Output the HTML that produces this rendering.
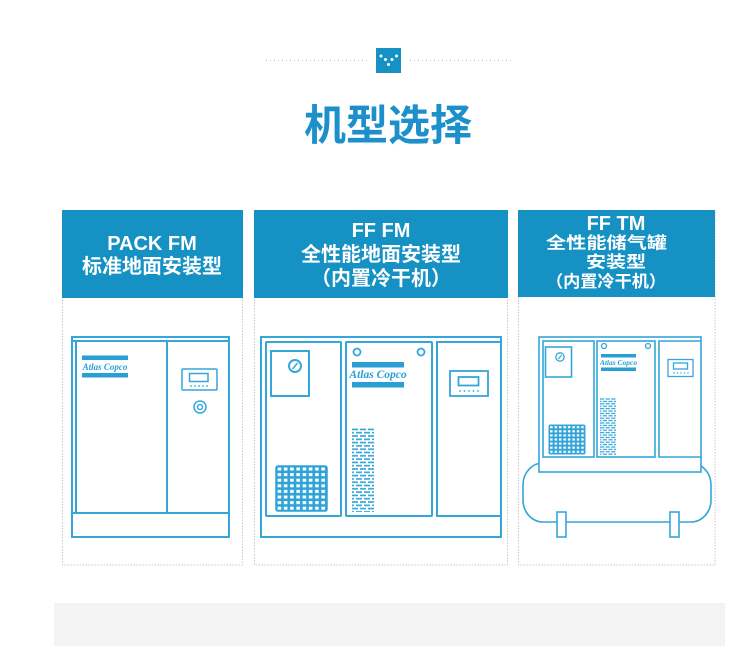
<!DOCTYPE html>
<html>
<head>
<meta charset="utf-8">
<style>
html,body{margin:0;padding:0;background:#fff;}
body{width:750px;height:646px;overflow:hidden;}
svg{display:block;}
.t{font-family:"Liberation Sans","Noto Sans CJK SC",sans-serif;font-weight:bold;fill:#fff;font-size:20px;text-anchor:middle;}
.t3{font-family:"Liberation Sans","Noto Sans CJK SC",sans-serif;font-weight:bold;fill:#fff;font-size:16.5px;text-anchor:middle;}
.logo{font-family:"Liberation Serif",serif;font-style:italic;font-weight:bold;fill:#2a9fd6;text-anchor:middle;}
</style>
</head>
<body>
<svg width="750" height="646" viewBox="0 0 750 646" xmlns="http://www.w3.org/2000/svg">
<defs>
  <pattern id="g2" x="276" y="466" width="6.25" height="5.6" patternUnits="userSpaceOnUse">
    <rect width="6.25" height="5.6" fill="#2fa3d8"/>
    <rect x="1.6" y="1.5" width="3.6" height="3" fill="#fff"/>
  </pattern>
  <pattern id="g3" x="549" y="425" width="4.45" height="4.1" patternUnits="userSpaceOnUse">
    <rect width="4.45" height="4.1" fill="#2fa3d8"/>
    <rect x="1.1" y="1.1" width="2.5" height="2.2" fill="#fff"/>
  </pattern>
  <pattern id="v2" x="352" y="428" width="8" height="6.6" patternUnits="userSpaceOnUse">
    <rect x="0" y="0.6" width="6" height="1.6" fill="#2fa3d8"/>
    <rect x="4" y="3.9" width="4" height="1.6" fill="#2fa3d8"/>
    <rect x="0" y="3.9" width="2" height="1.6" fill="#2fa3d8"/>
  </pattern>
  <pattern id="v3" x="600" y="398" width="5.6" height="4.8" patternUnits="userSpaceOnUse">
    <rect x="0" y="0.4" width="4.2" height="1.2" fill="#2fa3d8"/>
    <rect x="2.8" y="2.8" width="2.8" height="1.2" fill="#2fa3d8"/>
    <rect x="0" y="2.8" width="1.4" height="1.2" fill="#2fa3d8"/>
  </pattern>
</defs>

<!-- top dotted lines + icon -->
<line x1="266" y1="60.5" x2="368" y2="60.5" stroke="#bdbdbd" stroke-width="1" stroke-dasharray="1 3"/>
<line x1="410" y1="60.5" x2="513" y2="60.5" stroke="#bdbdbd" stroke-width="1" stroke-dasharray="1 3"/>
<rect x="376" y="48" width="25" height="25" fill="#1591c4"/>
<g fill="#fff">
  <circle cx="381" cy="56" r="1.5"/>
  <circle cx="385.5" cy="59.5" r="1.5"/>
  <circle cx="388.5" cy="64.5" r="1.5"/>
  <circle cx="392" cy="59.5" r="1.5"/>
  <circle cx="396.5" cy="56" r="1.5"/>
</g>

<!-- title -->
<text x="388" y="140" text-anchor="middle" font-family="'Liberation Sans','Noto Sans CJK SC',sans-serif" font-weight="bold" font-size="42" fill="#1d8fca">机型选择</text>

<!-- card borders -->
<g fill="none" stroke="#c8c8c8" stroke-width="1" stroke-dasharray="1.5 1.5">
  <rect x="62.5" y="210.5" width="180" height="354.5"/>
  <rect x="254.5" y="210.5" width="253" height="354.5"/>
  <rect x="518.5" y="210.5" width="196.5" height="354.5"/>
</g>

<!-- headers -->
<rect x="62" y="210" width="181" height="88" fill="#1591c4"/>
<rect x="254" y="210" width="254" height="88" fill="#1591c4"/>
<rect x="518" y="210" width="197" height="87" fill="#1591c4"/>

<text class="t" x="152" y="250">PACK FM</text>
<text class="t" x="152" y="273">标准地面安装型</text>

<text class="t" x="381" y="237">FF FM</text>
<text class="t" x="381" y="261">全性能地面安装型</text>
<text class="t" x="381" y="285">（内置冷干机）</text>

<text class="t" x="616" y="230" font-size="19">FF TM</text>
<text class="t3" x="606.5" y="248.5" textLength="121" lengthAdjust="spacingAndGlyphs">全性能储气罐</text>
<text class="t3" x="616" y="267.5" textLength="60" lengthAdjust="spacingAndGlyphs">安装型</text>
<text class="t3" x="606" y="287" textLength="120" lengthAdjust="spacingAndGlyphs">（内置冷干机）</text>

<!-- Machine 1 -->
<g fill="none" stroke="#35a6d9" stroke-width="2">
  <rect x="72" y="337" width="157" height="200"/>
  <line x1="72" y1="341" x2="229" y2="341"/>
  <line x1="76" y1="341" x2="76" y2="513"/>
  <line x1="167" y1="341" x2="167" y2="513"/>
  <line x1="72" y1="513" x2="229" y2="513"/>
</g>
<rect x="82" y="355.5" width="46" height="4.5" fill="#2a9fd6"/>
<rect x="82" y="373" width="46" height="4.5" fill="#2a9fd6"/>
<text class="logo" x="105" y="370" font-size="9">Atlas Copco</text>
<g fill="none" stroke="#35a6d9" stroke-width="1.5">
  <rect x="182" y="369" width="35" height="21" rx="1"/>
  <rect x="189.5" y="373.5" width="18.5" height="8"/>
  <circle cx="200" cy="407" r="6"/>
  <circle cx="200" cy="407" r="2.5"/>
</g>
<g fill="#35a6d9">
  <circle cx="191" cy="386" r="0.9"/><circle cx="195" cy="386" r="0.9"/><circle cx="199" cy="386" r="0.9"/><circle cx="203" cy="386" r="0.9"/><circle cx="207" cy="386" r="0.9"/>
</g>

<!-- Machine 2 -->
<g fill="none" stroke="#35a6d9" stroke-width="2">
  <rect x="261" y="337" width="240" height="200"/>
  <rect x="266" y="342" width="75" height="174" rx="1"/>
  <rect x="346" y="342" width="86" height="174" rx="1"/>
  <path d="M501 342 H437 V516 H501"/>
  <rect x="271" y="351" width="38" height="45"/>
  <circle cx="295" cy="366" r="6"/>
  <line x1="292.5" y1="369" x2="297.5" y2="363" stroke-width="1.5"/>
  <circle cx="357" cy="352" r="3.5" stroke-width="1.8"/>
  <circle cx="421" cy="352" r="3.5" stroke-width="1.8"/>
  <rect x="450" y="371" width="38" height="25" stroke-width="1.8"/>
  <rect x="458.5" y="377" width="20" height="8.5" stroke-width="1.8"/>
</g>
<rect x="276" y="466" width="51" height="45" rx="2" fill="url(#g2)" stroke="#2fa3d8" stroke-width="1.5"/>
<rect x="352" y="362" width="52" height="5.5" fill="#2a9fd6"/>
<rect x="352" y="382" width="52" height="5.5" fill="#2a9fd6"/>
<text class="logo" x="378" y="378" font-size="11.5">Atlas Copco</text>
<rect x="352" y="428" width="22" height="84" fill="url(#v2)"/>
<g fill="#35a6d9">
  <circle cx="460" cy="391" r="0.9"/><circle cx="464.5" cy="391" r="0.9"/><circle cx="469" cy="391" r="0.9"/><circle cx="473.5" cy="391" r="0.9"/><circle cx="478" cy="391" r="0.9"/>
</g>

<!-- Machine 3 -->
<g stroke="#35a6d9" stroke-width="1.6">
  <rect x="523" y="463" width="188" height="59" rx="20" ry="22" fill="#fff"/>
  <rect x="557" y="512" width="9" height="25" fill="#fff"/>
  <rect x="670" y="512" width="9" height="25" fill="#fff"/>
  <rect x="539" y="337" width="162" height="135" fill="#fff"/>
</g>
<g fill="none" stroke="#35a6d9" stroke-width="1.6">
  <rect x="543" y="341" width="51" height="116"/>
  <rect x="597" y="341" width="58" height="116"/>
  <path d="M701 341 H659 V457 H701"/>
  <rect x="545.5" y="347" width="26" height="30"/>
  <circle cx="560" cy="357" r="4.2" stroke-width="1.3"/>
  <line x1="558.3" y1="359" x2="561.7" y2="355" stroke-width="1.1"/>
  <circle cx="604" cy="346" r="2.5" stroke-width="1.3"/>
  <circle cx="648" cy="346" r="2.5" stroke-width="1.3"/>
  <rect x="668" y="359.5" width="25" height="17" stroke-width="1.3"/>
  <rect x="673.5" y="363" width="14" height="6" stroke-width="1.3"/>
</g>
<rect x="549" y="425" width="36" height="29" rx="1.5" fill="url(#g3)" stroke="#2fa3d8" stroke-width="1"/>
<rect x="601" y="354" width="35" height="3.5" fill="#2a9fd6"/>
<rect x="601" y="367.5" width="35" height="3.5" fill="#2a9fd6"/>
<text class="logo" x="618.5" y="365" font-size="7.5">Atlas Copco</text>
<rect x="600" y="398" width="16" height="57" fill="url(#v3)"/>
<g fill="#35a6d9">
  <circle cx="674" cy="373" r="0.7"/><circle cx="677.5" cy="373" r="0.7"/><circle cx="681" cy="373" r="0.7"/><circle cx="684.5" cy="373" r="0.7"/><circle cx="688" cy="373" r="0.7"/>
</g>

<!-- bottom gray block -->
<rect x="54" y="603" width="671" height="43" fill="#f3f3f3"/>
</svg>
</body>
</html>
